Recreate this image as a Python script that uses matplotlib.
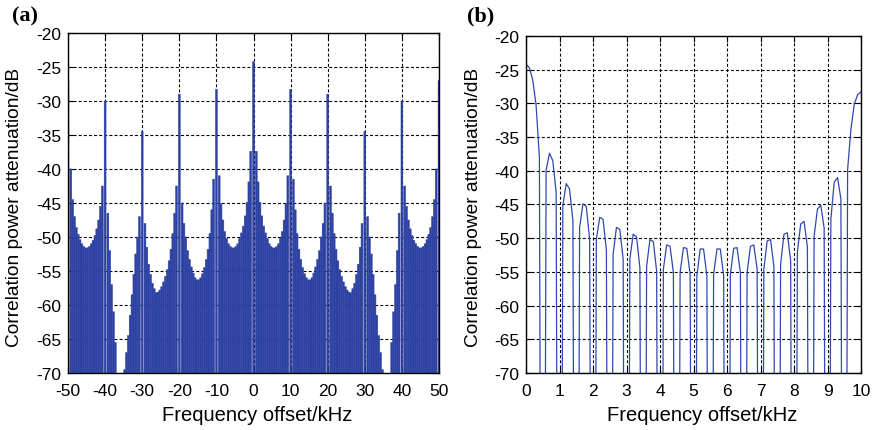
import numpy as np
import matplotlib
matplotlib.use("Agg")
import matplotlib.pyplot as plt

plt.rcParams['font.family'] = ['Liberation Sans', 'DejaVu Sans']
plt.rcParams['axes.unicode_minus'] = False

# ---------------- data: panel (a) ----------------
# main-lobe peaks (dB) at every 10 kHz
a_main_freq = [-50, -40, -30, -20, -10, 0, 10, 20, 30, 40, 50]
a_main_db = [-27.0, -30.0, -34.5, -29.0, -28.3, -24.2, -28.3, -29.0, -34.5, -30.0, -27.0]

# side-lobe peaks (dB) in each 10 kHz segment (18 lobes, 0.5 kHz apart)
seg_starts = [-50, -40, -30, -20, -10, 0, 10, 20, 30, 40]
seg_m50 = [-40.0, -44.5, -47.0, -48.6, -49.6, -50.4, -51.0, -51.4, -51.6,
           -51.6, -51.4, -51.0, -50.5, -49.8, -48.8, -47.5, -45.5, -42.5]
seg_m40 = [-46.5, -52.0, -57.0, -61.0, -65.5, -71.0, -76.0, -78.0, -74.0,
           -69.5, -67.0, -64.5, -61.5, -58.5, -55.5, -52.5, -50.0, -47.0]
seg_m30 = [-48.0, -51.5, -54.0, -55.5, -56.8, -57.6, -58.2, -58.1, -57.8,
           -57.3, -56.6, -55.8, -54.8, -53.5, -51.8, -49.5, -46.5, -42.5]
seg_m20 = [-45.0, -48.0, -50.0, -52.0, -53.3, -54.4, -55.3, -56.0, -56.3,
           -56.3, -56.0, -55.4, -54.5, -53.3, -51.8, -49.5, -46.0, -41.5]
seg_m10 = [-41.0, -45.1, -47.5, -49.2, -50.2, -51.0, -51.4, -51.6, -51.6,
           -51.4, -51.0, -50.2, -49.4, -48.4, -46.9, -44.9, -41.9, -37.4]
seg_p0 = [-37.4, -41.9, -44.9, -46.9, -48.4, -49.4, -50.2, -51.0, -51.4,
          -51.6, -51.6, -51.4, -51.0, -50.2, -49.2, -47.5, -45.1, -41.0]
seg_p10 = [-41.5, -46.0, -49.5, -51.8, -53.3, -54.5, -55.4, -56.0, -56.3,
           -56.3, -56.0, -55.3, -54.4, -53.3, -52.0, -50.0, -48.0, -45.0]
seg_p20 = [-42.5, -46.5, -49.5, -51.8, -53.5, -54.8, -55.8, -56.6, -57.3,
           -57.8, -58.1, -58.2, -57.6, -56.8, -55.5, -54.0, -51.5, -48.0]
seg_p30 = [-47.0, -50.0, -52.5, -55.5, -58.5, -61.5, -64.5, -67.0, -69.5,
           -74.0, -78.0, -76.0, -71.0, -65.5, -61.0, -57.0, -52.0, -46.5]
seg_p40 = [-42.5, -45.5, -47.5, -48.8, -49.8, -50.5, -51.0, -51.4, -51.6,
           -51.6, -51.4, -51.0, -50.4, -49.6, -48.6, -47.0, -44.5, -40.0]
segments = [seg_m50, seg_m40, seg_m30, seg_m20, seg_m10,
            seg_p0, seg_p10, seg_p20, seg_p30, seg_p40]

# ---------------- data: panel (b) ----------------
# samples every 0.1 kHz from 0 to 10 kHz; -200 marks nulls far below the axis
b_freq = [round(0.1 * i, 1) for i in range(101)]
b_db = [-24.2, -24.7, -26.5, -30.2, -38.0,
        -200, -39.9, -37.4, -38.5, -43.2,
        -200, -45.2, -41.9, -42.7, -47.4,
        -200, -48.4, -44.9, -45.3, -50.2,
        -200, -50.2, -46.9, -47.2, -51.8,
        -200, -52.4, -48.4, -48.7, -53.1,
        -200, -53.1, -49.4, -49.8, -54.4,
        -200, -54.2, -50.2, -50.5, -54.9,
        -200, -54.6, -51.0, -51.2, -55.1,
        -200, -55.1, -51.4, -51.5, -55.4,
        -200, -55.6, -51.6, -51.6, -55.6,
        -200, -55.4, -51.6, -51.6, -55.6,
        -200, -55.4, -51.5, -51.4, -55.1,
        -200, -55.1, -51.2, -51.0, -54.6,
        -200, -54.6, -50.4, -50.2, -54.2,
        -200, -53.9, -49.4, -49.2, -53.4,
        -200, -52.1, -47.9, -47.5, -51.3,
        -200, -49.7, -45.7, -45.1, -48.5,
        -200, -47.2, -41.7, -41.0, -44.2,
        -200, -39.8, -33.8, -30.1, -28.7, -28.3]

a_xticks = list(range(-50, 51, 10))
b_xticks = list(range(0, 11, 1))
yticks = list(range(-70, -19, 5))

# ---------------- figure ----------------
W, H = 880, 431
fig = plt.figure(figsize=(W / 100, H / 100), dpi=100)
axa = fig.add_axes([68 / W, 1 - 374 / H, (439 - 68) / W, (374 - 34) / H])
axb = fig.add_axes([526 / W, 1 - 374 / H, (861 - 526) / W, (374 - 37) / H])

blue_fill = '#2c41a2'
blue_line = '#3048b0'
floor = -80

side_x, side_y = [], []
for s, seg in zip(seg_starts, segments):
    for i, v in enumerate(seg):
        side_x.append(s + 0.75 + 0.5 * i)
        side_y.append(v)
side_x = np.array(side_x)
side_y = np.array(side_y)

axa.bar(side_x, side_y - floor, bottom=floor, width=0.5, color=blue_fill,
        edgecolor=blue_fill, linewidth=0.35, zorder=2, snap=False)
axa.bar(a_main_freq, np.array(a_main_db) - floor, bottom=floor, width=0.5,
        color=blue_fill, edgecolor=blue_fill, linewidth=0.35, zorder=2,
        snap=False)

axb.plot(b_freq, b_db, color=blue_line, linewidth=0.9, zorder=2)

for ax, xt, xl in [(axa, a_xticks, (-50, 50)), (axb, b_xticks, (0, 10))]:
    ax.set_xlim(*xl)
    ax.set_ylim(-70, -20)
    ax.set_xticks(xt)
    ax.set_yticks(yticks)
    ax.set_axisbelow(True)
    ax.grid(True, color='black', linestyle=(0, (2.7, 1.9)), linewidth=0.8)
    ax.tick_params(direction='in', length=4, top=True, right=True,
                   labelsize=12.5, width=0.8)
    ax.tick_params(axis='x', pad=7)
    ax.tick_params(axis='y', pad=5)
    for sp in ax.spines.values():
        sp.set_linewidth(1.0)
        sp.set_zorder(5)

fig.text(15 / W, 1 - 207 / H, 'Correlation power attenuation/dB', rotation=90,
         ha='center', va='center', fontsize=13.8)
fig.text(473 / W, 1 - 207 / H, 'Correlation power attenuation/dB', rotation=90,
         ha='center', va='center', fontsize=13.8)
fig.text(257 / W, 1 - 421 / H, 'Frequency offset/kHz', ha='center',
         va='baseline', fontsize=14.5)
fig.text(702 / W, 1 - 421 / H, 'Frequency offset/kHz', ha='center',
         va='baseline', fontsize=14.5)

panel_font = ['Liberation Serif', 'DejaVu Serif']
fig.text(12 / W, 1 - 21 / H, '(a)', family=panel_font, fontweight='bold',
         fontsize=16, ha='left', va='baseline')
fig.text(467 / W, 1 - 21 / H, '(b)', family=panel_font, fontweight='bold',
         fontsize=16, ha='left', va='baseline')

fig.savefig('out.png', dpi=100)
